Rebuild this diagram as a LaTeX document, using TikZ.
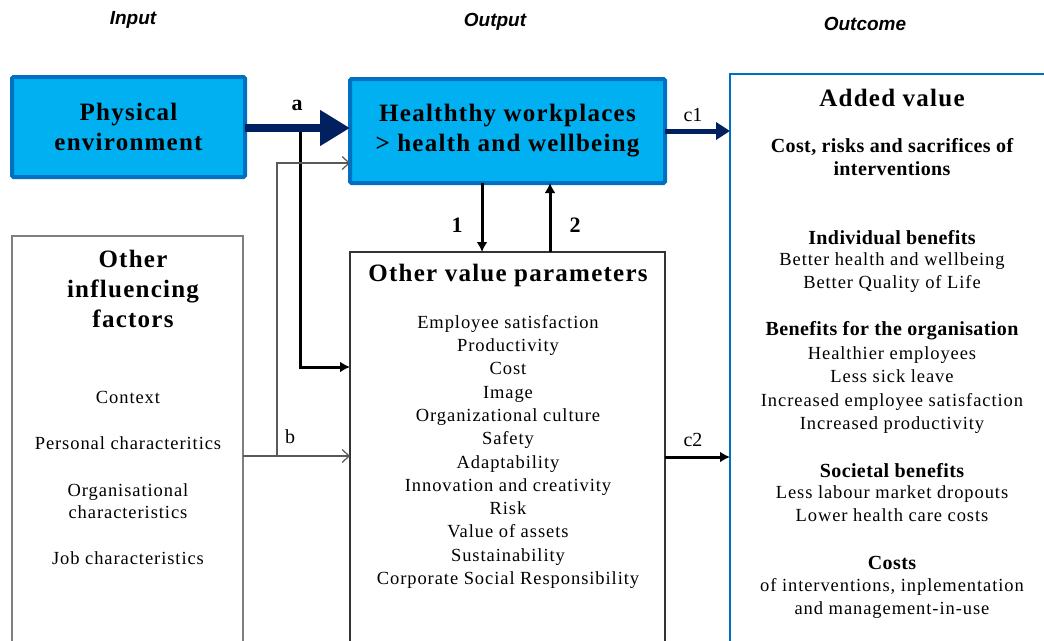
\documentclass[tikz,border=0pt]{standalone}
\usepackage{fontspec}
\setmainfont{Liberation Serif}
\setsansfont{Liberation Sans}
\usetikzlibrary{arrows.meta,positioning}
\definecolor{cyanfill}{HTML}{00B0F0}
\definecolor{blueline}{HTML}{0070C0}
\definecolor{navy}{HTML}{002060}
\definecolor{boxgray}{HTML}{7F7F7F}

\begin{document}
\begin{tikzpicture}[
			x = 1pt, y = -1pt,
			every node/.style = {inner sep=0pt, outer sep=0pt},
			txt/.style = {font=\fontsize{18.5}{23}\selectfont\addfontfeature{LetterSpace=5}, text height=12.5pt, text depth=4pt},
			head/.style = {font=\fontsize{20}{23}\selectfont\bfseries\addfontfeature{LetterSpace=2}},
			title/.style = {font=\fontsize{25}{30}\selectfont\bfseries\addfontfeature{LetterSpace=5}, align=center},
			colhead/.style = {font=\fontsize{19}{22}\selectfont\sffamily\bfseries\itshape},
			lab/.style = {font=\fontsize{20}{23}\selectfont},
			bluebox/.style = {draw=blueline, line width=4pt, fill=cyanfill, rounded corners=1.5pt},
			whitebox/.style = {draw=boxgray, line width=1.5pt, fill=white},
			thickarr/.style = {line width=3pt, -{Latex[length=10pt,width=11pt]}},
			thinarr/.style = {draw=boxgray!70!black, line width=1.2pt, -{Straight Barb[length=7pt,width=13pt]}}
		]

			\useasboundingbox (0,0) rectangle (1044,640);
			\clip (0,0) rectangle (1044,640);

			% column headings
			\node[colhead] (hin) at (133,20) {Input};
			\node[colhead] (hout) at (495,22) {Output};
			\node[colhead] (hres) at (865,24) {Outcome};

			% boxes
			\node[bluebox, minimum width=233pt, minimum height=100pt, title] (phys) at (128.5,127) {Physical\\environment};
			\node[bluebox, minimum width=315pt, minimum height=104pt, title] (work) at (507.5,131) {Healththy workplaces\\> health and wellbeing};
			\node[whitebox, anchor=north west, minimum width=231pt, minimum height=430pt] (infl) at (12,236) {};
			\node[whitebox, draw=black!80, anchor=north west, minimum width=315pt, minimum height=420pt] (para) at (350,252) {};
			\node[whitebox, draw=blueline, anchor=north west, minimum width=340pt, minimum height=600pt] (added) at (730,74) {};

			% other influencing factors
			\node[title] (infltitle) at (133,289) {Other\\influencing\\factors};
			\node[txt] (ctx) at (128,399) {Context};
			\node[txt] (pers) at (128,445) {Personal characteritics};
			\node[txt] (orga) at (128,492) {Organisational};
			\node[txt] (orgb) at (128,514) {characteristics};
			\node[txt] (job) at (128,560) {Job characteristics};

			% other value parameters
			\node[title] (paratitle) at (508,275) {Other value parameters};
			\foreach \t [count=\i] in {Employee satisfaction, Productivity, Cost, Image, Organizational culture, Safety, Adaptability, Innovation and creativity, Risk, Value of assets, Sustainability, Corporate Social Responsibility}
				\node[txt] (par\i) at (508,{324+(\i-1)*23.3}) {\t};

			% added value
			\node[title] (addtitle) at (892,98) {Added value};
			\node[head, align=center] (cost) at (892,157) {Cost, risks and sacrifices of\\interventions};
			\node[head] (indiv) at (892,238) {Individual benefits};
			\node[txt] (ind1) at (892,261) {Better health and wellbeing};
			\node[txt] (ind2) at (892,284) {Better Quality of Life};
			\node[head] (orgben) at (892,331) {Benefits for the organisation};
			\node[txt] (org1) at (892,355) {Healthier employees};
			\node[txt] (org2) at (892,378) {Less sick leave};
			\node[txt] (org3) at (892,402) {Increased employee satisfaction};
			\node[txt] (org4) at (892,425) {Increased productivity};
			\node[head] (soc) at (892,471) {Societal benefits};
			\node[txt] (soc1) at (892,494) {Less labour market dropouts};
			\node[txt] (soc2) at (892,517) {Lower health care costs};
			\node[head] (costs) at (892,563) {Costs};
			\node[txt] (cst1) at (892,587) {of interventions, inplementation};
			\node[txt] (cst2) at (892,610) {and management-in-use};

			% connectors
			\coordinate (asplit) at (300,128);
			\coordinate (bsplit) at (277,456);
			\draw[thickarr] (asplit) |- (para.west |- 0,367);
			\draw[navy, line width=8pt, -{Triangle[length=30pt,width=34pt]}] (phys.east |- asplit) -- (work.west |- asplit);
			\draw[thinarr] (infl.east |- bsplit) -- (para.west |- bsplit);
			\draw[thinarr] (bsplit) |- (work.west |- 0,163);
			\draw[thickarr] (work.south -| 482,0) -- (para.north -| 482,0);
			\draw[thickarr] (para.north -| 550,0) -- (work.south -| 550,0);
			\draw[navy, line width=5pt, -{Triangle[length=14pt,width=17pt]}] (work.east |- 0,131) -- (added.west |- 0,131);
			\draw[thickarr] (para.east |- 0,457) -- (added.west |- 0,457);

			% connector labels
			\node[font=\fontsize{22}{24}\selectfont\bfseries] (la) at (297,105) {a};
			\node[lab] (lb) at (290,437) {b};
			\node[font=\fontsize{22}{24}\selectfont\bfseries] (l1) at (457,225) {1};
			\node[font=\fontsize{22}{24}\selectfont\bfseries] (l2) at (575,225) {2};
			\node[lab] (lc1) at (693,115) {c1};
			\node[lab] (lc2) at (693,440) {c2};

		\end{tikzpicture}
\end{document}
